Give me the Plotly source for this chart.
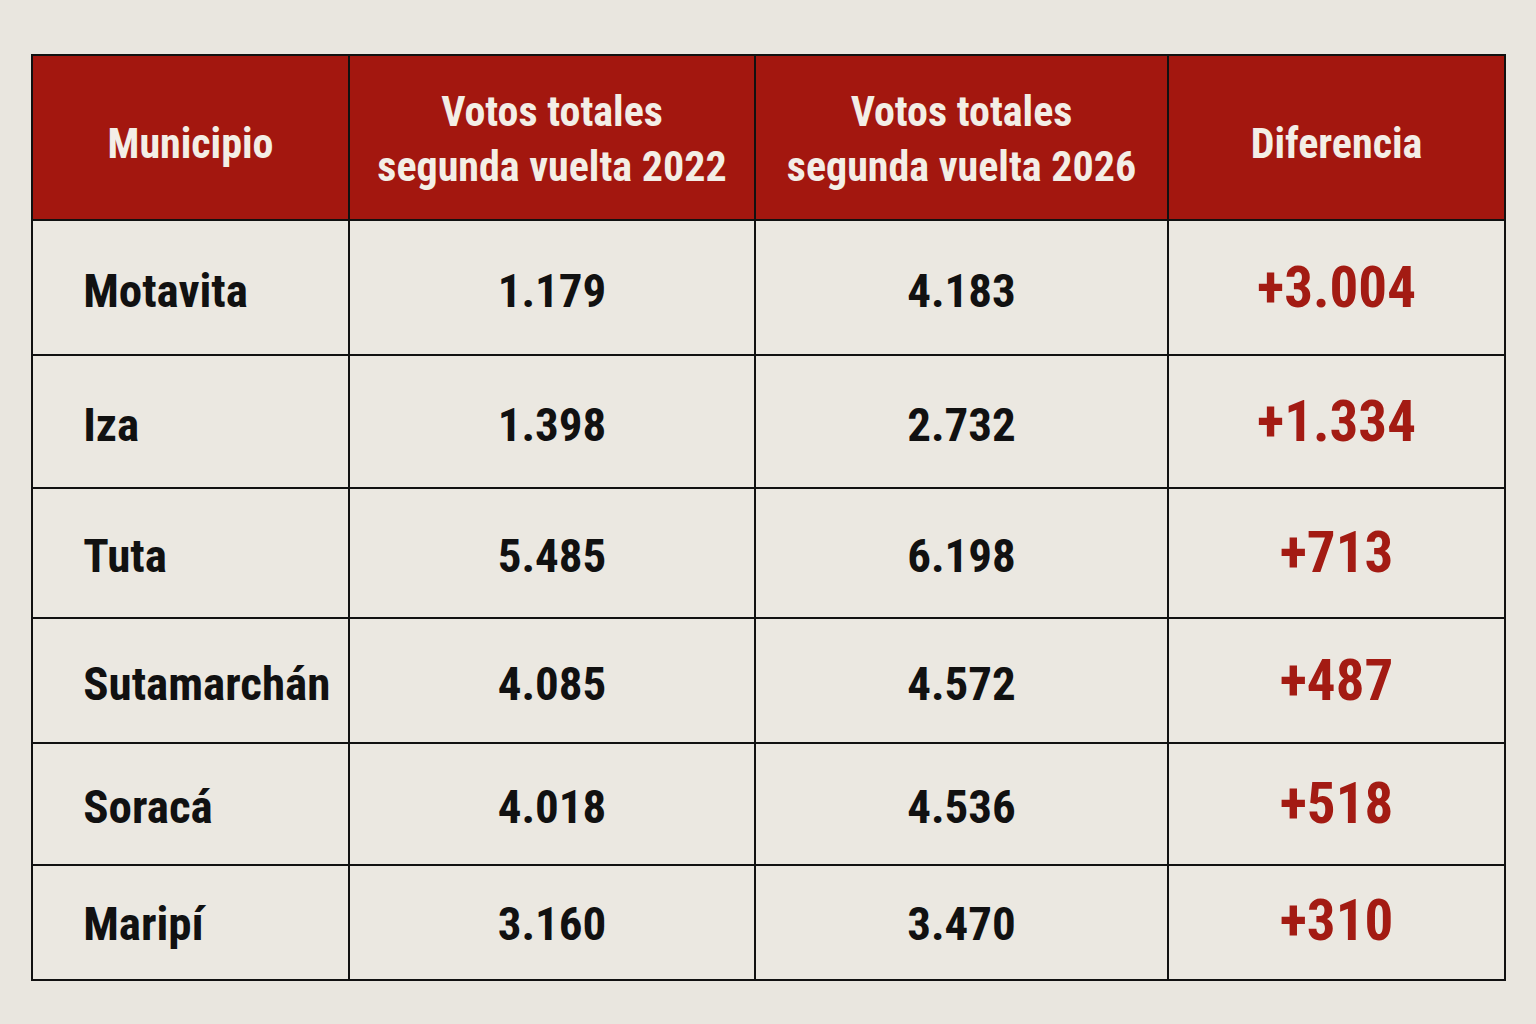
import plotly.graph_objects as go

municipios = ["Motavita", "Iza", "Tuta", "Sutamarchán", "Soracá", "Maripí"]
votos_2022 = ["1.179", "1.398", "5.485", "4.085", "4.018", "3.160"]
votos_2026 = ["4.183", "2.732", "6.198", "4.572", "4.536", "3.470"]
diferencia = ["+3.004", "+1.334", "+713", "+487", "+518", "+310"]
encabezados = [["Municipio"], ["Votos totales", "segunda vuelta 2022"],
               ["Votos totales", "segunda vuelta 2026"], ["Diferencia"]]

# layout of the rows (pixels): row heights and baseline offsets of the text
row_h = [134.5, 132, 129, 125, 122, 115]
row_base = [89, 88, 86, 84, 82, 77]

W, H = 1536, 1024
FONT = ("Noto Sans ExtraCondensed, Noto Sans Condensed, Roboto Condensed, "
        "DejaVu Sans Condensed, Liberation Sans Narrow, Arial Narrow, Roboto, sans-serif")
BG = "#e9e6df"
CELL = "#ebe8e1"
RED = "#a3170f"
DRED = "#a31b13"
NB = "\u00a0"
ASC, DESC = 0.95, 0.212      # font ascent / descent (em)
PAD = 8                      # plotly table cell padding
LINE_F = 14                  # base font size of the cell text (line spacing)
SPACING = 1.3 * LINE_F


def span(px, content):
    return f'<span style="font-size:{px}px">{content}</span>'


def strut(px):
    return span(round(px, 1), NB)


def body(txt, i, size, left=False):
    x = (row_base[i] - PAD) / ASC
    y = (row_h[i] - row_base[i] - PAD - SPACING) / DESC
    if left:
        line1 = span(size, NB * 4 + f"<b>{txt}</b>") + strut(x)
    else:
        line1 = strut(x) + span(size, f"<b>{txt}</b>") + strut(x)
    return line1 + "<br>" + strut(y)


def head(lines):
    if len(lines) == 1:
        return strut(102) + f"<b>{lines[0]}</b>" + strut(102) + "<br>"
    l1, l2 = lines
    return strut(68) + NB * 5 + f"<b>{l1}</b><br><b>{l2}</b>"


fig = go.Figure(go.Table(
    domain=dict(x=[32 / W, 1505 / W], y=[1 - 1012 / H, 1 - 55 / H]),
    columnwidth=[317, 406, 413, 337],
    header=dict(
        values=[head(h) for h in encabezados],
        fill_color=RED,
        line=dict(color="#111111", width=2),
        align="center",
        height=165,
        font=dict(family=FONT, size=42, color="#f3eee6"),
    ),
    cells=dict(
        values=[[body(m, i, 47, left=True) for i, m in enumerate(municipios)],
                [body(v, i, 47) for i, v in enumerate(votos_2022)],
                [body(v, i, 47) for i, v in enumerate(votos_2026)],
                [body(v, i, 57) for i, v in enumerate(diferencia)]],
        fill_color=CELL,
        line=dict(color="#111111", width=2),
        align=["left", "center", "center", "center"],
        height=60,
        font=dict(family=FONT, size=LINE_F,
                  color=[["#111111"] * 6, ["#111111"] * 6, ["#111111"] * 6, [DRED] * 6]),
    ),
))

fig.update_layout(
    width=W, height=H,
    margin=dict(l=0, r=0, t=0, b=0),
    paper_bgcolor=BG,
    plot_bgcolor=BG,
)

fig.write_html(
    "out.html",
    config={"displayModeBar": False},
    post_script="document.body.style.margin='0';document.body.style.background='%s';" % BG,
)
